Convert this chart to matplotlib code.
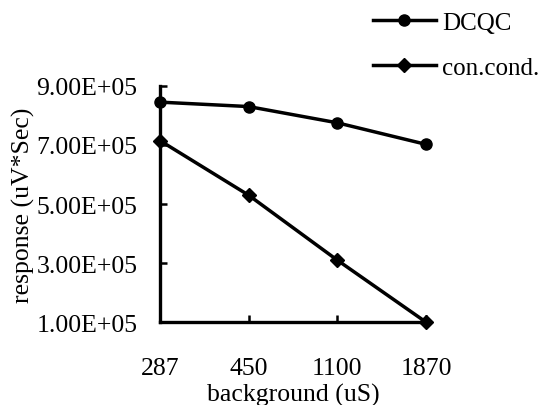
import matplotlib
matplotlib.use("Agg")
import matplotlib.pyplot as plt

categories = ["287", "450", "1100", "1870"]
dcqc = [8.45e5, 8.30e5, 7.75e5, 7.02e5]
con_cond = [7.15e5, 5.30e5, 3.10e5, 1.00e5]
yticks = [1e5, 3e5, 5e5, 7e5, 9e5]
ytick_labels = ["1.00E+05", "3.00E+05", "5.00E+05", "7.00E+05", "9.00E+05"]

plt.rcParams['font.family'] = ['Liberation Serif', 'DejaVu Serif']

fig = plt.figure(figsize=(5.4, 4.06), dpi=100)
ax = fig.add_axes([0.296, 0.204, 0.493, 0.582])

x = range(len(categories))
ax.plot(x, dcqc, color="black", lw=2.5, marker="o", ms=8, label="DCQC", clip_on=False)
ax.plot(x, con_cond, color="black", lw=2.5, marker="D", ms=7, label="con.cond.", clip_on=False)

ax.set_xlim(0, 3)
ax.set_ylim(1e5, 9e5)
ax.set_xticks(list(x))
ax.set_xticklabels(categories)
ax.set_yticks(yticks)
ax.set_yticklabels(ytick_labels)

for s in ["top", "right"]:
    ax.spines[s].set_visible(False)
for s in ["left", "bottom"]:
    ax.spines[s].set_linewidth(2.4)

ax.tick_params(axis="both", direction="in", length=5, width=1.8, labelsize=18.5)
ax.tick_params(axis="x", pad=25)
ax.tick_params(axis="y", pad=16)

ax.set_xlabel("background (uS)", fontsize=18.5, labelpad=3)
ax.set_ylabel("response (uV*Sec)", fontsize=18.5, labelpad=1)

fig.legend(loc="upper left", bbox_to_anchor=(0.668, 1.0), frameon=False,
           fontsize=18, handlelength=2.5, labelspacing=0.9, handletextpad=0.25,
           borderaxespad=0.1)

fig.savefig("out.png", dpi=100)
